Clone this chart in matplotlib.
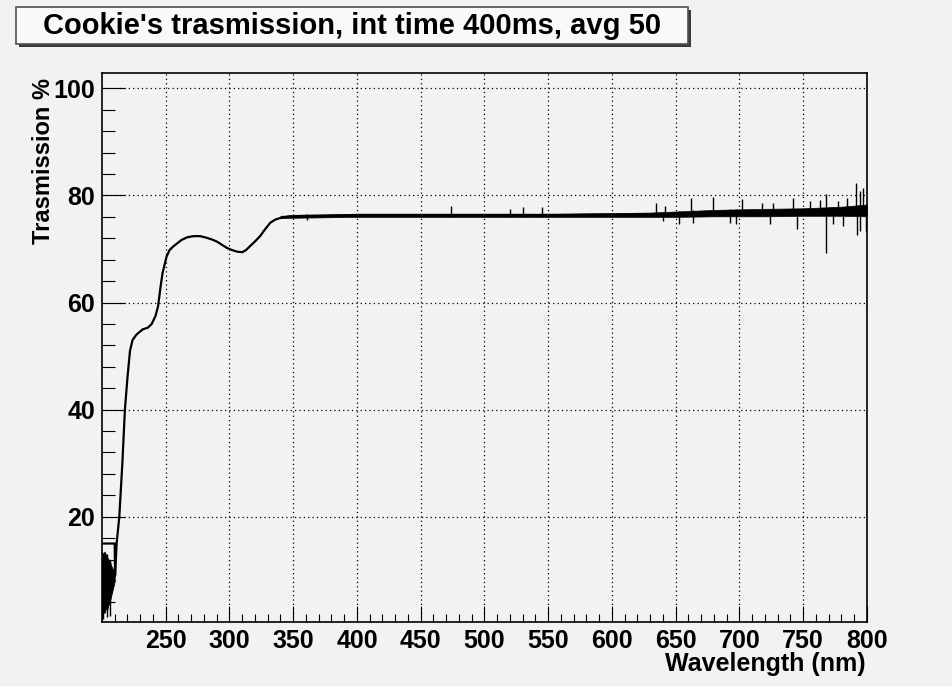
import numpy as np
import matplotlib
matplotlib.use("Agg")
import matplotlib.pyplot as plt
from matplotlib.patches import Rectangle
from matplotlib.ticker import MultipleLocator

# transmission curve (nm, %)
wl = [200.0, 210.0, 210.3, 211.5, 213.6, 216, 218, 220, 222, 224, 227, 232, 236,
      239, 242, 244, 246, 247.5, 250.7, 253, 256, 262.5, 267, 272, 277, 282, 286,
      290, 294, 298, 302, 306, 310, 313, 316, 320, 324, 328, 332, 336, 340, 347,
      360, 400, 450, 500, 550, 600, 640, 680, 720, 760, 800]
trans = [15.0, 15.0, 9.0, 15.0, 20.0, 30.0, 40.0, 46.0, 51.0, 53.0, 54.0, 55.0, 55.3,
         56.0, 57.5, 59.3, 63.0, 65.5, 68.6, 69.8, 70.5, 71.7, 72.2, 72.4, 72.4, 72.1, 71.8,
         71.4, 70.8, 70.2, 69.8, 69.5, 69.4, 69.8, 70.5, 71.4, 72.4, 73.7, 74.9, 75.5, 75.8, 76.1,
         76.2, 76.3, 76.3, 76.3, 76.3, 76.4, 76.5, 76.7, 76.9, 77.1, 77.4]

# detector noise at the short end (nm, low %, high %)
start_wl = [200, 201, 202, 203, 204, 205, 206, 207, 208, 209, 210]
start_lo = [2.0, 2.5, 2.0, 3.0, 2.5, 3.5, 4.0, 5.0, 6.0, 7.0, 8.0]
start_hi = [13.5, 13.0, 13.5, 13.0, 12.5, 12.0, 12.0, 11.0, 10.5, 10.0, 10.0]

# noise band along the plateau (nm, low %, high %)
band_wl = [340, 400, 450, 500, 550, 600, 630, 650, 680, 700, 720, 750, 780, 800]
band_lo = [75.8, 76.0, 76.0, 76.0, 76.0, 76.0, 76.0, 76.0, 76.1, 76.1, 76.1, 76.2, 76.2, 76.1]
band_hi = [76.2, 76.6, 76.6, 76.6, 76.6, 76.7, 76.8, 77.0, 77.3, 77.4, 77.5, 77.6, 77.9, 78.3]

# single spikes (nm, low %, high %)
spike_wl = [201, 204, 206.5, 360.5, 473.5, 520, 530, 545, 634.5, 640.2, 641.6, 652.8,
            661.7, 663.8, 679.0, 692.5, 697.3, 701.7, 717.4, 724.0, 726.5, 742.2, 744.9,
            755.3, 763.1, 767.8, 773.6, 777.5, 781.4, 784.0, 791.1, 792.4, 794.5, 797.1, 799.0]
spike_lo = [1.0, 1.2, 1.5, 75.5, 76.0, 76.0, 76.0, 76.0, 76.2, 75.2, 76.2, 74.6,
            76.3, 74.9, 76.4, 74.9, 74.6, 76.5, 76.6, 74.6, 76.6, 76.7, 73.7,
            76.7, 76.8, 69.3, 74.6, 76.9, 74.2, 76.9, 76.9, 72.7, 73.3, 77.0, 73.3]
spike_hi = [12.0, 13.0, 12.0, 76.5, 78.0, 77.5, 77.8, 77.9, 78.6, 77.0, 78.0, 77.1,
            79.5, 77.2, 79.8, 77.4, 77.4, 79.3, 78.6, 77.5, 78.6, 79.5, 77.5,
            78.9, 79.2, 80.3, 77.8, 78.9, 77.9, 79.5, 82.3, 78.0, 80.8, 81.4, 78.0]

x_ticks = [250, 300, 350, 400, 450, 500, 550, 600, 650, 700, 750, 800]
y_ticks = [20, 40, 60, 80, 100]

bg = "#f2f2f2"
plt.rcParams["font.family"] = ["Liberation Sans", "DejaVu Sans"]
plt.rcParams["font.weight"] = "bold"

fig = plt.figure(figsize=(9.52, 6.86), dpi=100, facecolor=bg)
ax = fig.add_axes([0.1071, 0.0937, 0.8036, 0.7994], facecolor=bg)

ax.fill_between(start_wl, start_lo, start_hi, color="black", lw=0.6)
ax.fill_between(band_wl, band_lo, band_hi, color="black", lw=0.5)
ax.vlines(spike_wl, spike_lo, spike_hi, color="black", lw=1.0)
ax.plot(wl, trans, color="black", lw=1.6)

ax.set_xlim(200, 800)
ax.set_ylim(0.4, 102.8)
ax.set_xticks(x_ticks)
ax.set_yticks(y_ticks)
ax.xaxis.set_minor_locator(MultipleLocator(10))
ax.yaxis.set_minor_locator(MultipleLocator(4))
ax.grid(True, which="major", color="black", ls=(0, (1, 2.5)), lw=0.9)

ax.tick_params(axis="x", which="major", direction="in", length=11.5, width=0.8,
               labelsize=18, pad=5, top=False)
ax.tick_params(axis="x", which="minor", direction="in", length=5.8, width=0.8, top=False)
ax.tick_params(axis="y", which="major", direction="in", length=16.5, width=0.8,
               labelsize=18, pad=5, right=False)
ax.tick_params(axis="y", which="minor", direction="in", length=9, width=0.8, right=False)
for lab in ax.get_xticklabels() + ax.get_yticklabels():
    lab.set_fontweight("bold")
for sp in ax.spines.values():
    sp.set_linewidth(1.2)

# axis titles, placed at the axis ends
fig.text(866 / 952, 1 - 671 / 686, "Wavelength (nm)", ha="right", va="baseline",
         fontsize=18, fontweight="bold")
fig.text(44 / 952, 1 - 78 / 686, "Trasmission %", ha="center", va="top",
         rotation=90, fontsize=17, fontweight="bold")

# title box with shadow
W, H = 952, 686
fig.patches.append(Rectangle((19 / W, 1 - 47 / H), 672 / W, 37 / H, transform=fig.transFigure,
                             facecolor="#3a3a3a", edgecolor="none", zorder=1))
fig.patches.append(Rectangle((16 / W, 1 - 44 / H), 672 / W, 37 / H, transform=fig.transFigure,
                             facecolor="#f9f9f9", edgecolor="#505050", lw=1.2, zorder=2))
fig.text(352 / W, 1 - 26 / H, "Cookie's trasmission, int time 400ms, avg 50",
         ha="center", va="center", fontsize=21, fontweight="bold", zorder=3)

fig.savefig("out.png", dpi=100, facecolor=bg)
